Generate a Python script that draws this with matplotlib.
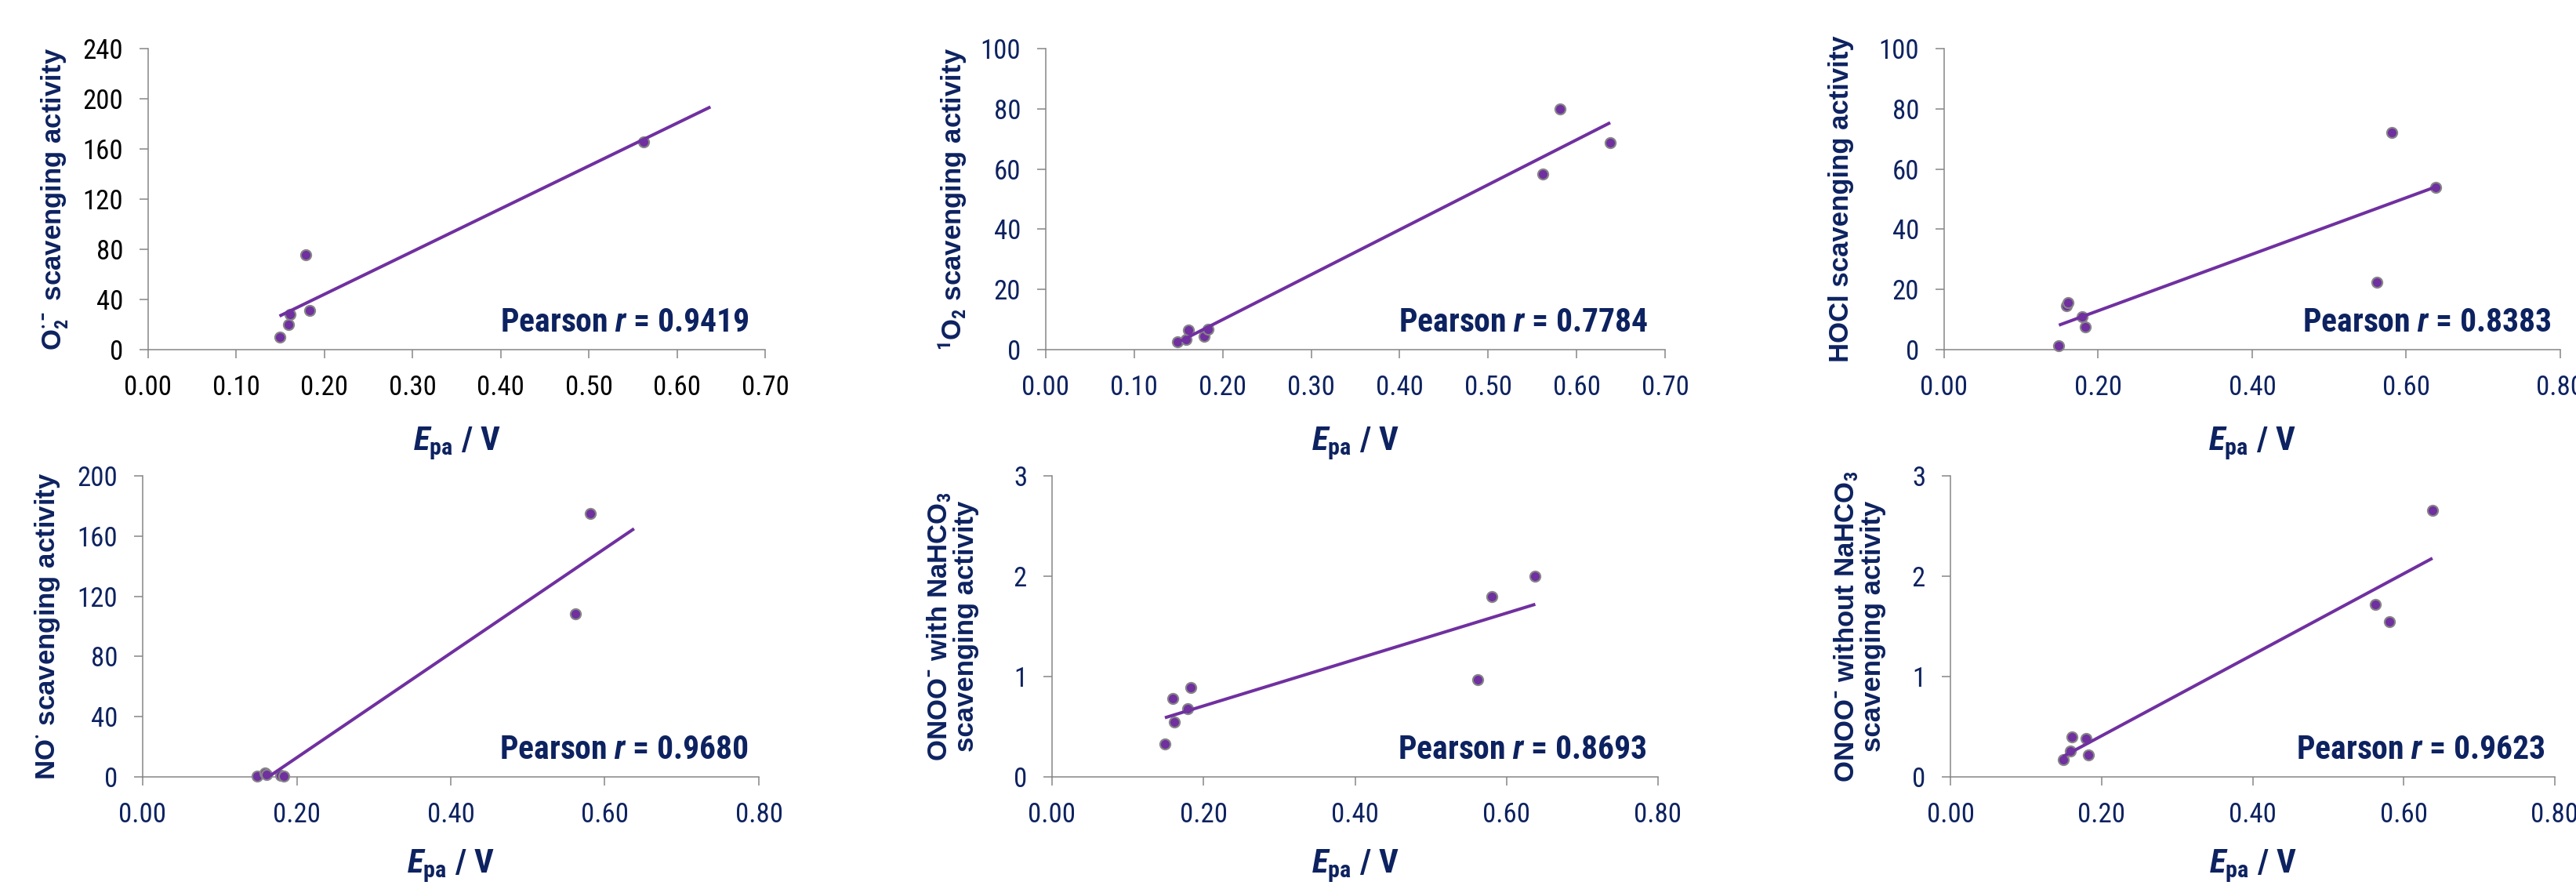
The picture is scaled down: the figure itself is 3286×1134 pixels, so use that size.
import numpy as np
import matplotlib
matplotlib.use('Agg')
import matplotlib.pyplot as plt
from matplotlib import font_manager

# anodic peak potentials (V), shared by all panels
E_pa = [0.149, 0.159, 0.161, 0.179, 0.183, 0.562, 0.581, 0.638]

# scavenging activities (nan = no point shown)
o2_act = [10.3, 19.9, 28.0, 75.8, 31.1, 165.7, np.nan, np.nan]
singlet_o2_act = [2.6, 3.5, 6.4, 4.5, 6.9, 58.4, 80.0, 68.7]
hocl_act = [1.3, 14.6, 15.5, 10.9, 7.5, 22.5, 72.1, 54.0]
no_act = [0.5, 2.5, 1.5, 0.8, 0.5, 108.1, 174.8, np.nan]
onoo_with_act = [0.33, 0.78, 0.55, 0.68, 0.89, 0.97, 1.80, 2.00]
onoo_without_act = [0.17, 0.26, 0.40, 0.38, 0.22, 1.72, 1.55, 2.66]

pearson_r = ['0.9419', '0.7784', '0.8383', '0.9680', '0.8693', '0.9623']

ylabels = [r'O$_2^{·-}$ scavenging activity',
           r'$^1$O$_2$ scavenging activity',
           'HOCl scavenging activity',
           r'NO$^{·}$ scavenging activity',
           'ONOO$^{-}$ with NaHCO$_3$\nscavenging activity',
           'ONOO$^{-}$ without NaHCO$_3$\nscavenging activity']

yticks = [[0, 40, 80, 120, 160, 200, 240],
          [0, 20, 40, 60, 80, 100],
          [0, 20, 40, 60, 80, 100],
          [0, 40, 80, 120, 160, 200],
          [0, 1, 2, 3],
          [0, 1, 2, 3]]
xticks = [[0.0, 0.1, 0.2, 0.3, 0.4, 0.5, 0.6, 0.7],
          [0.0, 0.1, 0.2, 0.3, 0.4, 0.5, 0.6, 0.7],
          [0.0, 0.2, 0.4, 0.6, 0.8],
          [0.0, 0.2, 0.4, 0.6, 0.8],
          [0.0, 0.2, 0.4, 0.6, 0.8],
          [0.0, 0.2, 0.4, 0.6, 0.8]]

acts = [o2_act, singlet_o2_act, hocl_act, no_act, onoo_with_act, onoo_without_act]

# narrow font for numbers / Pearson text, wide bold for the y titles
names = sorted(set(f.name for f in font_manager.fontManager.ttflist))
narrow = [n for n in names if 'Narrow' in n or 'Condensed' in n]
if narrow:
    fname = narrow[0]
    for pref in ['Liberation Sans Narrow', 'Roboto Condensed', 'Open Sans Condensed']:
        if pref in narrow:
            fname = pref
            break
    fs_tick, fs_lab, fs_r = 25, 30, 30
else:
    fname = 'Liberation Sans'
    fs_tick, fs_lab, fs_r = 22, 26, 25
wide = 'Liberation Sans'

plt.rcParams['font.family'] = [fname, 'DejaVu Sans']
plt.rcParams['mathtext.fontset'] = 'custom'
plt.rcParams['mathtext.rm'] = fname
plt.rcParams['mathtext.bf'] = fname + ':bold'
plt.rcParams['mathtext.it'] = fname + ':italic'
plt.rcParams['mathtext.bfit'] = fname + ':bold:italic'
plt.rcParams['mathtext.default'] = 'bf'

navy = '#0d2260'
purple = '#7030a0'
grey = '#868686'

W, H = 3287, 1134
# axes boxes in pixels: left, right, top, bottom
boxes = [(189, 976, 62, 446), (1334, 2124, 62, 446), (2480, 3266, 62, 446),
         (182, 968, 607, 991), (1342, 2115, 607, 991), (2488, 3259, 607, 991)]
ylab_off = [119, 119, 131, 121, 127, 116]
r_xpos = [0.974, 0.972, 0.985, 0.983, 0.982, 0.984]

fig = plt.figure(figsize=(W / 100, H / 100), dpi=100)

for i in range(6):
    l, r, t, b = boxes[i]
    ax = fig.add_axes([l / W, 1 - b / H, (r - l) / W, (b - t) / H])
    x = np.array(E_pa)
    y = np.array(acts[i])
    ok = ~np.isnan(y)
    ax.plot(x[ok], y[ok], 'o', color=purple, markersize=9.5, markeredgecolor=grey,
            markeredgewidth=1.5, clip_on=False, zorder=3)
    p, q = np.polyfit(x[ok], y[ok], 1)
    xl = np.array([x.min(), x.max()])
    ax.plot(xl, p * xl + q, color=purple, lw=2.9, zorder=4, solid_capstyle='butt')

    ax.set_xlim(xticks[i][0], xticks[i][-1])
    ax.set_ylim(yticks[i][0], yticks[i][-1])
    ax.set_xticks(xticks[i])
    ax.set_xticklabels(['%.2f' % v for v in xticks[i]])
    ax.set_yticks(yticks[i])
    for s in ['top', 'right']:
        ax.spines[s].set_visible(False)
    for s in ['left', 'bottom']:
        ax.spines[s].set_color(grey)
        ax.spines[s].set_linewidth(1.1)
    tcol = 'black' if i == 0 else navy
    ax.tick_params(axis='both', direction='out', length=8, width=1.1, color=grey,
                   labelsize=fs_tick, labelcolor=tcol)
    ax.tick_params(axis='x', pad=15)
    ax.tick_params(axis='y', pad=15)

    plt.rcParams['mathtext.rm'] = wide
    plt.rcParams['mathtext.bf'] = wide + ':bold'
    ax.set_ylabel(ylabels[i], fontsize=25, fontweight='bold', color=navy,
                  family=[wide, 'DejaVu Sans'], linespacing=1.0)
    ax.yaxis.set_label_coords(-ylab_off[i] / (r - l), 0.5)
    ax.yaxis.label.set_va('center')
    plt.rcParams['mathtext.rm'] = fname
    plt.rcParams['mathtext.bf'] = fname + ':bold'
    ax.set_xlabel(r'$\mathbfit{E}_{\mathbf{pa}}$ / V', fontsize=fs_lab + 1, fontweight='bold', color=navy)
    off = 120 if i < 3 else 114
    ax.xaxis.set_label_coords(0.5, -off / (b - t))
    ax.xaxis.label.set_va('center')

    ax.text(r_xpos[i], 0.09, r'Pearson $\mathbfit{r}$ = ' + pearson_r[i], transform=ax.transAxes,
            ha='right', va='center', fontsize=fs_r, fontweight='bold', color=navy)

fig.savefig('out.png', dpi=100)
